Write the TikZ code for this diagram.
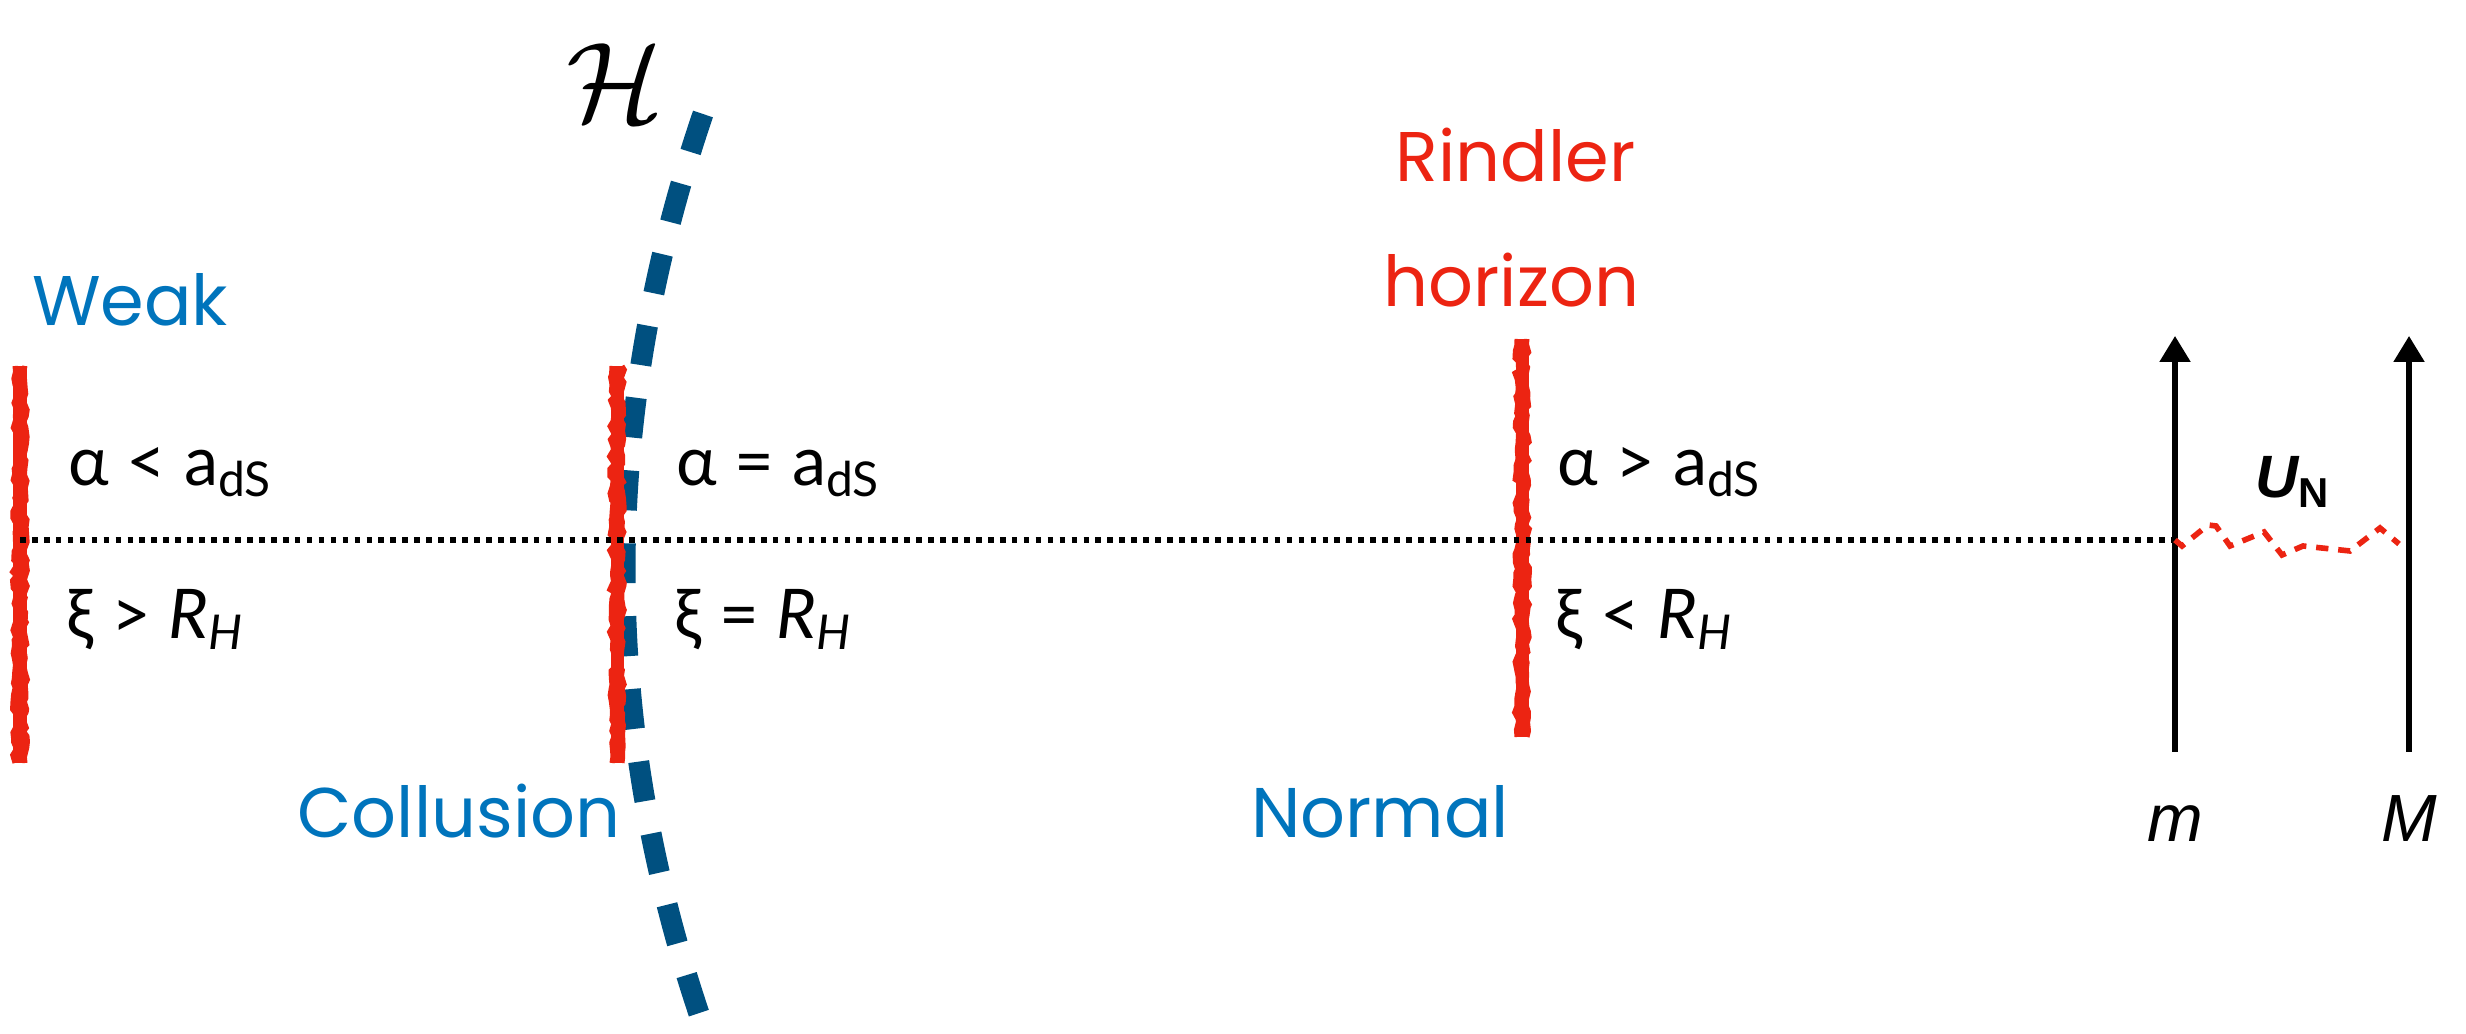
\documentclass[tikz,border=0pt]{standalone}
\usepackage{fontspec}
\setmainfont{Lato}
\newfontfamily\handfont{Poppins}
\newfontfamily\arialfont{Liberation Sans}
\usepackage{tikz}
\usetikzlibrary{arrows.meta,positioning,decorations.pathmorphing}

\definecolor{chalkred}{RGB}{236,36,18}
\definecolor{penblue}{RGB}{0,116,188}
\definecolor{horizonblue}{RGB}{0,80,128}

\begin{document}
\begin{tikzpicture}[
  hand/.style={font=\handfont\fontsize{20}{24}\selectfont, text=penblue, inner sep=0pt, anchor=base},
  cond/.style={font=\fontsize{19.5}{24}\selectfont, inner sep=0pt, anchor=base west},
  chalk/.style={chalkred, line width=1.3mm},
  rough/.style={chalkred, line width=0.5mm, decorate, decoration={random steps, segment length=0.6mm, amplitude=0.25mm}},
  horizonline/.style={horizonblue, line width=2.1mm, dash pattern=on 4mm off 3.3mm},
  worldline/.style={-{Triangle[length=2.6mm, width=3mm]}, line width=1.5pt},
  mass/.style={font=\arialfont\itshape\fontsize{19}{22}\selectfont, inner sep=0pt}
]
\pgfmathsetseed{7}
\useasboundingbox (0,0) rectangle (24.66,10.34);

% the three accelerated observers
\coordinate (weak-top) at (0.20,6.68);
\coordinate (weak-bot) at (0.20,2.71);
\coordinate (coll-top) at (6.17,6.68);
\coordinate (coll-bot) at (6.17,2.71);
\coordinate (norm-top) at (15.22,6.95);
\coordinate (norm-bot) at (15.22,2.97);
\coordinate (weak-mid) at (0.20,4.94);

% the two masses
\coordinate (m-foot) at (21.75,2.82);
\coordinate (m-head) at (21.75,6.98);
\coordinate (M-foot) at (24.09,2.82);
\coordinate (M-head) at (24.09,6.98);
\coordinate (m-mid) at (21.75,4.94);
\coordinate (M-near) at (23.99,4.90);

% cosmological horizon
\coordinate (hor-top) at (7.03,9.20);
\coordinate (hor-bot) at (7.06,0.00);
\draw[horizonline] (hor-top) .. controls (5.98,6.12) and (5.99,3.05) .. (hor-bot);
\node[font=\fontsize{24.88}{30}\selectfont, scale=1.3, inner sep=0pt, anchor=base] (hlabel) at (6.15,9.12) {$\mathcal{H}$};

% Rindler horizons
\draw[chalk] (weak-top) -- (weak-bot);
\draw[rough] ([xshift=-0.5mm]weak-top) -- ([xshift=-0.5mm]weak-bot);
\draw[rough] ([xshift=0.5mm]weak-top) -- ([xshift=0.5mm]weak-bot);
\draw[chalk] (coll-top) -- (coll-bot);
\draw[rough] ([xshift=-0.5mm]coll-top) -- ([xshift=-0.5mm]coll-bot);
\draw[rough] ([xshift=0.5mm]coll-top) -- ([xshift=0.5mm]coll-bot);
\draw[chalk] (norm-top) -- (norm-bot);
\draw[rough] ([xshift=-0.5mm]norm-top) -- ([xshift=-0.5mm]norm-bot);
\draw[rough] ([xshift=0.5mm]norm-top) -- ([xshift=0.5mm]norm-bot);

\draw[line width=1.6pt, dash pattern=on 1.6pt off 1.8pt] (weak-mid) -- (m-mid);

\node[cond] (weak-a) at (0.68,5.48) {α < a\textsubscript{dS}};
\node[cond] (weak-x) at (0.66,3.95) {ξ > \textit{R}\textsubscript{\textit{H}}};
\node[cond] (coll-a) at (6.76,5.48) {α = a\textsubscript{dS}};
\node[cond] (coll-x) at (6.74,3.95) {ξ = \textit{R}\textsubscript{\textit{H}}};
\node[cond] (norm-a) at (15.57,5.48) {α > a\textsubscript{dS}};
\node[cond] (norm-x) at (15.55,3.95) {ξ < \textit{R}\textsubscript{\textit{H}}};

\node[hand] (weak) at (1.30,7.08) {Weak};
\node[hand] (collusion) at (4.59,1.96) {Collusion};
\node[hand] (normal) at (13.80,1.96) {Normal};
\node[hand, text=chalkred, anchor=base west] (rindler) at (13.95,8.52) {Rindler};
\node[hand, text=chalkred, below=1.25cm of rindler.base west, anchor=base west, xshift=-0.12cm] (horizon) {horizon};

% Newtonian pair
\draw[worldline] (m-foot) -- (m-head);
\draw[worldline] (M-foot) -- (M-head);
\draw[chalkred, line width=1.6pt, dash pattern=on 3.5pt off 2.8pt] (m-mid) -- (21.82,4.88) -- (22.08,5.09) -- (22.16,5.08) -- (22.30,4.88) -- (22.64,5.02) -- (22.82,4.79) -- (23.03,4.88) -- (23.50,4.83) -- (23.80,5.06) -- (M-near);
\node[font=\arialfont\bfseries\itshape\fontsize{17}{20}\selectfont, inner sep=0pt, anchor=base] (un) at (22.93,5.36) {U\textsubscript{\upshape N}};
\node[mass, below=0.9cm of m-foot, anchor=base] (m) {m};
\node[mass, below=0.9cm of M-foot, anchor=base] (M) {M};
\end{tikzpicture}
\end{document}
